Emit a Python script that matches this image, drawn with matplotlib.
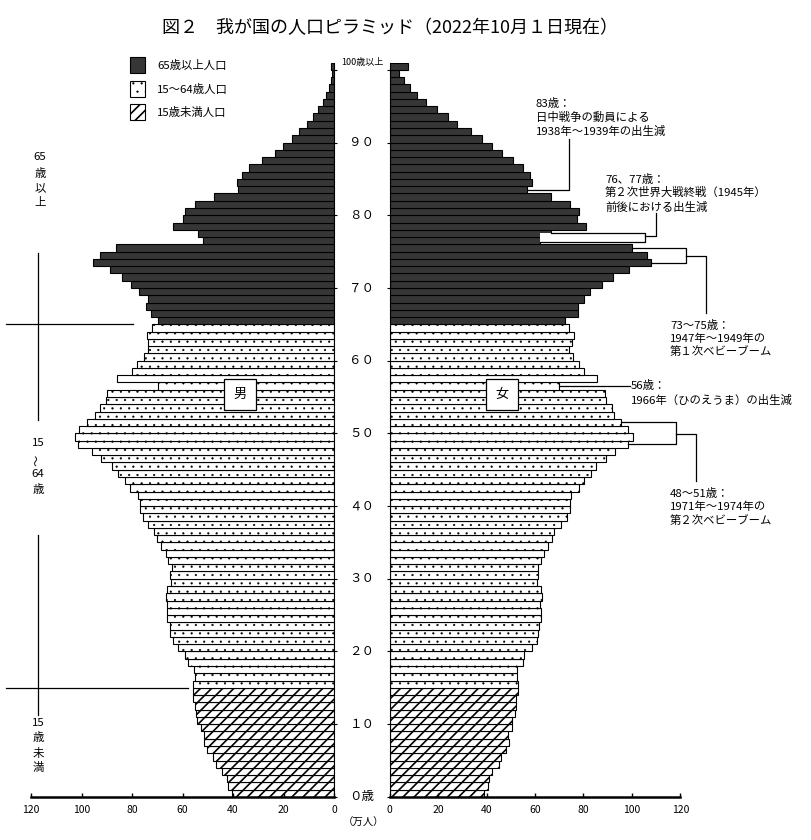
import numpy as np
import matplotlib
matplotlib.use('Agg')
import matplotlib.pyplot as plt
from matplotlib.patches import Rectangle
from matplotlib.transforms import blended_transform_factory

plt.rcParams['font.family'] = ['Noto Sans CJK JP', 'DejaVu Sans']
plt.rcParams['hatch.linewidth'] = 1.1

# 年齢 0〜99 と 100歳以上（単位：万人）
ages = np.arange(101)
male = [40.3, 42.1, 42.5, 44.5, 46.6, 47.8, 50.2, 51.4, 51.4, 52.6,
        54.2, 54.6, 55.0, 55.7, 55.7, 55.7, 55.0, 55.4, 57.7, 58.9,
        61.7, 63.7, 64.9, 64.9, 66.1, 66.1, 66.1, 66.4, 66.1, 64.5,
        64.9, 64.3, 65.7, 66.4, 68.4, 70.0, 71.2, 73.6, 75.6, 76.8,
        76.8, 77.5, 80.7, 82.7, 85.5, 87.8, 92.3, 95.8, 101.3, 102.5,
        100.9, 97.8, 94.6, 92.6, 90.2, 89.8, 69.6, 85.9, 80.2, 77.9,
        75.2, 73.6, 73.6, 74.2, 72.0, 69.6, 72.7, 74.5, 73.6, 77.1,
        80.4, 84.0, 88.8, 95.4, 92.7, 86.4, 51.8, 53.8, 63.7, 59.8,
        58.9, 55.0, 47.4, 38.2, 38.6, 36.6, 33.6, 28.4, 23.4, 20.3,
        16.8, 13.7, 10.8, 8.2, 6.3, 4.2, 3.2, 2.0, 1.2, 0.8,
        1.2]
female = [38.9, 40.4, 40.9, 42.4, 45.0, 45.8, 47.9, 49.1, 48.7, 50.3,
          50.3, 51.6, 52.0, 52.0, 53.1, 52.8, 52.4, 52.4, 54.9, 55.6,
          58.6, 60.7, 61.3, 61.8, 62.6, 62.6, 62.2, 63.0, 62.6, 60.9,
          61.3, 61.3, 62.6, 63.8, 65.5, 67.0, 67.8, 70.7, 73.3, 74.4,
          74.4, 74.8, 78.1, 80.3, 83.1, 85.1, 89.3, 93.0, 98.5, 100.5,
          98.5, 95.7, 92.7, 91.6, 89.4, 88.9, 69.9, 85.7, 80.3, 78.3,
          75.8, 74.1, 75.1, 76.2, 74.1, 72.4, 77.6, 77.9, 80.2, 82.9,
          87.5, 92.4, 98.9, 108.1, 106.3, 100.1, 62.2, 66.8, 80.9, 77.2,
          78.1, 74.6, 66.8, 56.5, 58.6, 57.9, 55.2, 50.8, 46.5, 42.4,
          38.0, 33.6, 27.9, 24.2, 19.7, 14.9, 11.4, 8.4, 5.9, 3.9,
          7.7]
male = np.array(male)
female = np.array(female)

x_ticks = [0, 20, 40, 60, 80, 100, 120]
age_ticks = list(range(0, 101, 10))
age_labels = ['０歳', '１０', '２０', '３０', '４０', '５０',
              '６０', '７０', '８０', '９０', '100歳以上']
legend_labels = ['65歳以上人口', '15～64歳人口', '15歳未満人口']

W, H = 811, 840
DARK = '#363636'


def fx(x):
    return x / W


def fy(y):
    return 1 - y / H


def draw_side(ax, vals):
    young = ages < 15
    work = (ages >= 15) & (ages < 65)
    old = ages >= 65
    with plt.rc_context({'hatch.linewidth': 1.2}):
        ax.barh(ages[young], vals[young], height=1.0, align='edge',
                color='white', edgecolor='black', hatch='///', linewidth=0.8)
    with plt.rc_context({'hatch.linewidth': 0.35}):
        ax.barh(ages[work], vals[work], height=1.0, align='edge',
                color='white', edgecolor='black', hatch='..', linewidth=0.8)
    ax.barh(ages[old], vals[old], height=1.0, align='edge', color=DARK,
            edgecolor='black', linewidth=0.8)


fig = plt.figure(figsize=(W / 100, H / 100), dpi=100)
y0, y1 = 796.85, 62.6
ax_m = fig.add_axes([fx(31.2), fy(y0), fx(334 - 31.2), (y0 - y1) / H])
ax_f = fig.add_axes([fx(389.7), fy(y0), fx(680.3 - 389.7), (y0 - y1) / H])

draw_side(ax_m, male)
draw_side(ax_f, female)

for ax in (ax_m, ax_f):
    ax.set_ylim(0, 101)
    ax.set_xticks(x_ticks)
    ax.set_yticks(age_ticks)
    ax.set_yticklabels([])
    ax.spines['top'].set_visible(False)
    ax.spines['bottom'].set_linewidth(1.8)
    ax.tick_params(axis='x', direction='in', length=3, width=1,
                   labelsize=7.5, pad=6)
    ax.tick_params(axis='y', direction='out', length=2.5, width=0.8)

ax_m.set_xlim(120, 0)
ax_m.spines['left'].set_visible(False)
ax_m.yaxis.tick_right()
ax_f.set_xlim(0, 120)
ax_f.spines['right'].set_visible(False)

# 中央の年齢ラベル
tr = blended_transform_factory(fig.transFigure, ax_m.transData)
for a, lab in zip(age_ticks, age_labels):
    if a == 100:
        fig.text(fx(362), 101, lab, transform=tr, fontsize=6.5,
                 ha='center', va='center')
    else:
        fig.text(fx(362), a, lab, transform=tr, fontsize=9,
                 ha='center', va='center')
fig.text(fx(364), fy(823), '（万人）', fontsize=7.5, ha='center', va='center')

# タイトル
fig.text(fx(390), fy(28), '図２　我が国の人口ピラミッド（2022年10月１日現在）',
         fontsize=13, ha='center', va='center')

# 凡例
leg_y = [65, 89, 112]
leg_style = [dict(facecolor=DARK, edgecolor='black'),
             dict(facecolor='white', edgecolor='black', hatch='..'),
             dict(facecolor='white', edgecolor='black', hatch='///')]
leg_hlw = [1.0, 0.35, 1.2]
for yy, lab, st, hlw in zip(leg_y, legend_labels, leg_style, leg_hlw):
    with plt.rc_context({'hatch.linewidth': hlw}):
        fig.add_artist(Rectangle((fx(130), fy(yy + 8)), 15 / W, 16 / H,
                                 transform=fig.transFigure, linewidth=0.8, **st))
    fig.text(fx(157), fy(yy), lab, fontsize=8.2, va='center', ha='left')

# 左側の区分ラベルと線
for lab, yy in [('65', 157), ('歳', 173), ('以', 188), ('上', 203)]:
    fig.text(fx(40), fy(yy), lab, fontsize=8.2, ha='center', va='center')
for lab, yy in [('15', 443), ('～', 460), ('64', 474), ('歳', 489)]:
    fig.text(fx(38), fy(yy), lab, fontsize=8.2, ha='center', va='center',
             rotation=90 if lab == '～' else 0)
for lab, yy in [('15', 723), ('歳', 738), ('未', 753), ('満', 768)]:
    fig.text(fx(38), fy(yy), lab, fontsize=8.2, ha='center', va='center')

kw = dict(color='black', linewidth=0.9, clip_on=False)
ax_m.plot([130, 79.7], [65, 65], **kw)
ax_m.plot([117.3, 117.3], [74.8, 51.8], **kw)
ax_m.plot([130, 57.9], [15, 15], **kw)
ax_m.plot([117.3, 117.3], [36.0, 11.3], **kw)

# 男・女
for x, lab in [(240, '男'), (502, '女')]:
    fig.add_artist(Rectangle((fx(x - 16), fy(410)), 32 / W, 31 / H,
                             transform=fig.transFigure, facecolor='white',
                             edgecolor='black', linewidth=0.9))
    fig.text(fx(x), fy(394), lab, fontsize=9.5, ha='center', va='center')

# 注記（右側）
ax_f.plot([female[83], 73.9, 73.9], [83.5, 83.5, 90.45], **kw)
ax_f.add_patch(Rectangle((female[76], 76.35), 105.5 - female[76], 1.15,
                         facecolor='white', edgecolor='none', clip_on=False))
ax_f.plot([female[77], 105.5, 105.5, female[76]],
          [77.5, 77.5, 76.35, 76.35], **kw)
ax_f.plot([105.5, 110.1, 110.1], [77.2, 77.2, 80.3], **kw)
ax_f.plot([female[75], 122.5, 122.5, female[73]],
          [75.5, 75.5, 73.5, 73.5], **kw)
ax_f.plot([122.5, 130.7, 130.7], [74.4, 74.4, 66.5], **kw)
ax_f.plot([female[56], 99.3], [56.5, 56.5], **kw)
ax_f.plot([female[51], 118.4, 118.4, female[48]],
          [51.5, 51.5, 48.5, 48.5], **kw)
ax_f.plot([118.4, 126.6, 126.6], [49.9, 49.9, 43.4], **kw)

notes = [
    (536, [104, 117, 131], ['83歳：', '日中戦争の動員による', '1938年～1939年の出生減']),
    (605, [179, 192, 207], ['76、77歳：', '第２次世界大戦終戦（1945年）', '前後における出生減']),
    (670, [325, 339, 352], ['73～75歳：', '1947年～1949年の', '第１次ベビーブーム']),
    (631, [386, 400], ['56歳：', '1966年（ひのえうま）の出生減']),
    (670, [494, 507, 521], ['48～51歳：', '1971年～1974年の', '第２次ベビーブーム']),
]
for x, ys, lines in notes:
    for yy, t in zip(ys, lines):
        fig.text(fx(x), fy(yy), t, fontsize=8.2, ha='left', va='center')

fig.savefig('out.png', dpi=100)
